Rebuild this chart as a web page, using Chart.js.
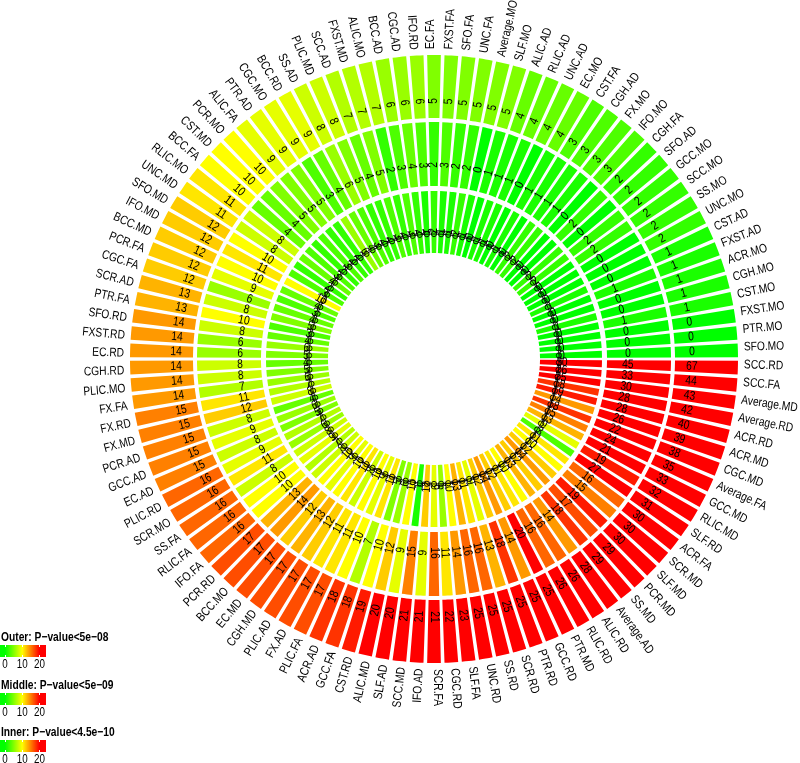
<!DOCTYPE html>
<html>
<head>
<meta charset="utf-8">
<script src="https://cdn.jsdelivr.net/npm/chart.js@4.4.1/dist/chart.umd.min.js"></script>
<style>
  html, body { margin: 0; padding: 0; background: #fff; }
  #wrap { position: relative; width: 800px; height: 763px; }
  #wrap canvas { position: absolute; left: 0; top: 0; }
</style>
</head>
<body>
<div id="wrap">
  <canvas id="rings" width="800" height="763"></canvas>
  <canvas id="track" width="800" height="763"></canvas>
</div>
<script>
// categories, clockwise from 3 o'clock
const categories = [
  'SCC.RD','SCC.FA','Average.MD','Average.RD','ACR.RD','ACR.MD','CGC.MD','Average.FA','GCC.MD','RLIC.MD',
  'SLF.RD','ACR.FA','SCR.MD','SLF.MD','PCR.MD','SS.MD','Average.AD','ALIC.RD','RLIC.RD','PTR.MD',
  'GCC.RD','PTR.RD','SCR.RD','SS.RD','UNC.RD','SLF.FA','CGC.RD','SCR.FA','IFO.AD','SCC.MD',
  'SLF.AD','ALIC.MD','CST.RD','GCC.FA','ACR.AD','PLIC.FA','FX.AD','PLIC.AD','CGH.MD','EC.MD',
  'BCC.MO','PCR.RD','IFO.FA','RLIC.FA','SS.FA','SCR.MO','PLIC.RD','EC.AD','GCC.AD','PCR.AD',
  'FX.MD','FX.RD','FX.FA','PLIC.MO','CGH.RD','EC.RD','FXST.RD','SFO.RD','PTR.FA','SCR.AD',
  'CGC.FA','PCR.FA','BCC.MD','IFO.MD','SFO.MD','UNC.MD','RLIC.MO','BCC.FA','CST.MD','PCR.MO',
  'ALIC.FA','PTR.AD','CGC.MO','BCC.RD','SS.AD','PLIC.MD','SCC.AD','FXST.MD','ALIC.MO','BCC.AD',
  'CGC.AD','IFO.RD','EC.FA','FXST.FA','SFO.FA','UNC.FA','Average.MO','SLF.MO','ALIC.AD','RLIC.AD',
  'UNC.AD','EC.MO','CST.FA','CGH.AD','FX.MO','IFO.MO','CGH.FA','SFO.AD','GCC.MO','SCC.MO',
  'SS.MO','UNC.MO','CST.AD','FXST.AD','ACR.MO','CGH.MO','CST.MO','FXST.MO','PTR.MO','SFO.MO'
];
const outerValues = [
  67,44,43,42,40,39,38,35,33,32, 31,30,30,30,29,29,28,26,26,25,
  25,25,25,25,25,23,22,21,21,21, 20,20,19,18,18,17,17,17,17,17,
  17,17,16,16,16,16,16,15,15,15, 15,15,14,14,14,14,14,14,13,13,
  12,12,12,12,12,11,11,10,10,10, 9,9,9,9,8,8,7,7,7,6,
  6,6,5,5,5,5,5,5,4,4, 4,4,3,3,3,3,2,2,2,2,
  2,2,1,1,1,1,1,0,0,0
];
const middleValues = [
  45,33,30,28,28,26,22,24,21,19, 27,16,15,19,17,18,14,16,16,20,
  14,18,13,16,16,14,11,16,9,15, 9,12,10,7,10,11,11,12,13,12,
  14,13,10,10,8,11,9,8,9,8, 12,11,7,8,8,6,6,8,10,8,
  6,9,10,11,10,8,8,4,4,5, 5,5,3,4,6,5,4,5,2,3,
  4,3,2,3,2,2,0,1,1,1, 0,1,1,1,1,0,2,0,2,2,
  0,0,0,1,0,0,1,0,0,0
];
const innerValues = [
  30,26,25,18,19,14,18,15,13,9, 3,11,10,12,14,12,13,10,11,12,
  14,12,9,11,13,10,6,9,12,1, 10,6,5,11,9,10,8,11,10,9,
  10,8,7,9,8,6,7,5,6,4, 8,7,6,5,4,5,6,4,3,5,
  4,3,4,10,3,2,4,3,2,3, 2,2,6,4,3,2,2,3,2,3,
  2,1,2,1,1,2,1,0,1,1, 0,1,0,2,2,0,0,2,2,0,
  0,0,1,0,0,1,0,0,0,0
];
const lineValues = [
  0,0,0,0,0,0,0,0,0,0, 0,0,0,0,0,0,0,0,0,0,
  0,0,0,0,0,0,0,0,0,0, 0,0,0,0,0,0,0,0,0,0,
  0,0,0,0,0,0,0,0,0,0, 0,0,0,0,0,0,0,0,0,0,
  0,0,0,0,0,0,0,0,0,0, 0,0,0,0,0,0,0,0,0,0,
  0,0,0,0,0,0,0,0,0,0, 0,0,0,0,0,0,0,0,0,0,
  0,0,0,0,0,0,0,0,0,0
];
const legendTitles = ['Outer: P\u2212value<5e\u221208', 'Middle: P\u2212value<5e\u221209', 'Inner: P\u2212value<4.5e\u221210'];
const legendTicks = [0, 10, 20];
const colorBreaks = [0, 10, 20];
const colorStops = [[0, 255, 0], [255, 255, 0], [255, 0, 0]];

// ---- colour ramp (linear in RGB between the breaks)
function valueColor(v) {
  if (v <= colorBreaks[0]) return `rgb(${colorStops[0].join(',')})`;
  const last = colorBreaks.length - 1;
  if (v >= colorBreaks[last]) return `rgb(${colorStops[last].join(',')})`;
  let i = 0;
  while (v > colorBreaks[i + 1]) i++;
  const t = (v - colorBreaks[i]) / (colorBreaks[i + 1] - colorBreaks[i]);
  const rgb = colorStops[i].map((c, j) => Math.round(c + (colorStops[i + 1][j] - c) * t));
  return `rgb(${rgb.join(',')})`;
}

// ---- fonts
function hasFont(name) {
  const c = document.createElement('canvas').getContext('2d');
  c.font = '20px monospace';
  const a = c.measureText('SCC.RD Average').width;
  c.font = `20px "${name}", monospace`;
  return Math.abs(c.measureText('SCC.RD Average').width - a) > 0.5;
}
const NARROW = hasFont('Liberation Sans Narrow');
const FAMILY = NARROW ? '"Liberation Sans Narrow"' : '"Liberation Sans", Arial, sans-serif';
const SQUEEZE = NARROW ? 1 : 0.82;

// ---- geometry
const CX = 434, CY = 359;
const OUTER_R = 304, INNER_R = 106;
const N = categories.length;

function ring(values, gapFrac, weight) {
  const data = [], colors = [];
  values.forEach(v => {
    data.push(1 - gapFrac); colors.push(valueColor(v));
    data.push(gapFrac); colors.push('rgba(0,0,0,0)');
  });
  return {
    data, backgroundColor: colors, borderWidth: 0, weight,
    rotation: 90 + (360 / N) * gapFrac / 2
  };
}
function spacer(weight) {
  return { data: [1], backgroundColor: ['rgba(0,0,0,0)'], borderWidth: 0, weight };
}

function radialText(ctx, ang, r, text, mode, shift) {
  ctx.save();
  ctx.translate(CX, CY);
  const right = Math.cos(ang) >= -1e-6;
  ctx.rotate(right ? ang : ang + Math.PI);
  ctx.scale(SQUEEZE, 1);
  ctx.textBaseline = 'middle';
  const x = (right ? r : -r) / SQUEEZE;
  if (mode === 'start') {
    ctx.textAlign = right ? 'left' : 'right';
    ctx.fillText(text, x, right ? -shift : shift);
  } else {
    ctx.textAlign = 'center';
    ctx.fillText(text, x, 0);
  }
  ctx.restore();
}

const ringText = {
  id: 'ringText',
  afterDatasetsDraw(chart) {
    const ctx = chart.ctx;
    const rings = [
      { meta: chart.getDatasetMeta(0), values: outerValues, off: 17 },
      { meta: chart.getDatasetMeta(2), values: middleValues, off: 21 },
      { meta: chart.getDatasetMeta(4), values: innerValues, off: 22 }
    ];
    ctx.fillStyle = '#000';
    categories.forEach((name, i) => {
      const arcEl = rings[0].meta.data[2 * i];
      const mid = (arcEl.startAngle + arcEl.endAngle) / 2;
      ctx.font = `12.5px ${FAMILY}`;
      radialText(ctx, mid, arcEl.outerRadius + 6, name, 'start', 3);
      rings.forEach(rg => {
        const el = rg.meta.data[2 * i];
        radialText(ctx, mid, el.innerRadius + rg.off, String(rg.values[i]), 'center', 0);
      });
    });
  },
  afterDraw(chart) {
    const ctx = chart.ctx;
    const x0 = 5, pxPer = 1.72, barW = 46;
    const tops = [645, 693, 740];
    tops.forEach((top, j) => {
      ctx.save();
      ctx.fillStyle = '#000';
      ctx.font = `bold 12.5px ${FAMILY}`;
      ctx.textBaseline = 'alphabetic';
      ctx.textAlign = 'left';
      ctx.scale(SQUEEZE, 1);
      ctx.fillText(legendTitles[j], 1 / SQUEEZE, top - 4);
      ctx.restore();
      for (let px = 0; px < barW; px++) {
        ctx.fillStyle = valueColor((px + 0.5 - x0) / pxPer);
        ctx.fillRect(px, top, 1, 12);
      }
      ctx.strokeStyle = '#fff';
      ctx.lineWidth = 1;
      legendTicks.forEach(t => {
        const x = Math.round(x0 + t * pxPer) + 0.5;
        ctx.beginPath();
        ctx.moveTo(x, top); ctx.lineTo(x, top + 2);
        ctx.moveTo(x, top + 10); ctx.lineTo(x, top + 12);
        ctx.stroke();
      });
      ctx.save();
      ctx.fillStyle = '#000';
      ctx.font = `12px ${FAMILY}`;
      ctx.textAlign = 'center';
      ctx.textBaseline = 'top';
      legendTicks.forEach(t => {
        ctx.save();
        ctx.translate(x0 + t * pxPer, top + 14);
        ctx.scale(SQUEEZE, 1);
        ctx.fillText(String(t), 0, 0);
        ctx.restore();
      });
      ctx.restore();
    });
  }
};

const pad = { left: CX - OUTER_R, right: 800 - CX - OUTER_R, top: CY - OUTER_R, bottom: 763 - CY - OUTER_R };

new Chart(document.getElementById('rings'), {
  type: 'doughnut',
  data: {
    datasets: [
      ring(outerValues, 0.21, 63),
      spacer(4),
      ring(middleValues, 0.23, 64),
      spacer(5),
      ring(innerValues, 0.28, 62)
    ]
  },
  options: {
    responsive: false,
    animation: false,
    devicePixelRatio: 1,
    events: [],
    radius: OUTER_R,
    cutout: INNER_R,
    layout: { padding: pad },
    plugins: { legend: { display: false }, tooltip: { enabled: false } }
  },
  plugins: [ringText]
});

// line track with circle markers, on a radial scale
new Chart(document.getElementById('track'), {
  type: 'radar',
  data: {
    labels: categories,
    datasets: [{
      data: lineValues,
      borderColor: '#000',
      borderWidth: 0.9,
      fill: false,
      pointRadius: 2.6,
      pointBorderWidth: 0.9,
      pointBorderColor: '#000',
      pointBackgroundColor: 'rgba(0,0,0,0)'
    }]
  },
  options: {
    responsive: false,
    animation: false,
    devicePixelRatio: 1,
    events: [],
    layout: { padding: pad },
    scales: {
      r: {
        min: -50, max: 71.6,
        startAngle: 90 + 180 / N,
        grid: { display: false },
        angleLines: { display: false },
        ticks: { display: false },
        pointLabels: { display: false }
      }
    },
    plugins: { legend: { display: false }, tooltip: { enabled: false } }
  }
});
</script>
</body>
</html>
